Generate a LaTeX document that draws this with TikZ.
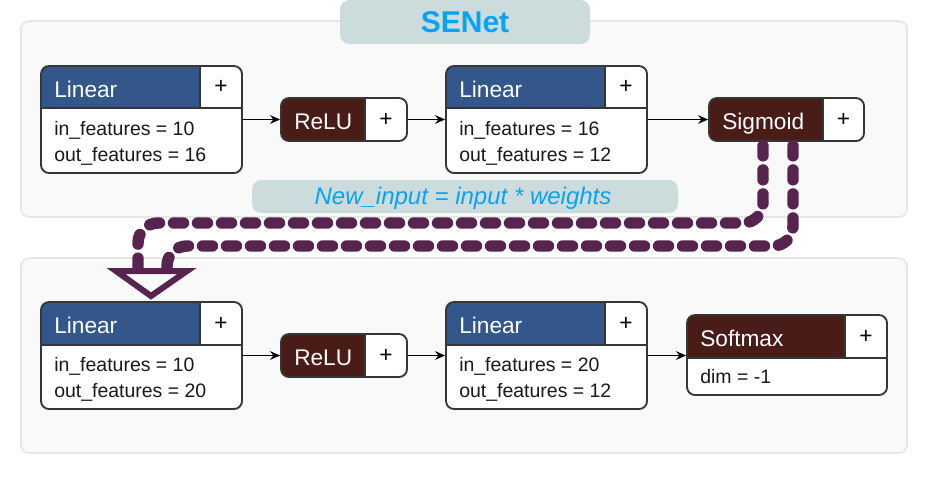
\documentclass[tikz,border=0pt]{standalone}
\usepackage{fontspec}
\setmainfont{Liberation Sans}
\usetikzlibrary{arrows.meta,fit,calc}
\definecolor{hblue}{HTML}{33578A}
\definecolor{hbrown}{HTML}{4A1C17}
\definecolor{sepurple}{HTML}{56244F}
\definecolor{panelbg}{HTML}{F9F9F9}
\definecolor{panelline}{HTML}{E6E6E6}
\definecolor{tagbg}{HTML}{CCDCDC}
\definecolor{tagtext}{HTML}{07A3F7}
\definecolor{boxgray}{HTML}{363636}
\definecolor{trifill}{HTML}{F8FAFB}
\tikzset{
  panel/.style={fill=panelbg, draw=panelline, line width=1.2pt, rounded corners=6pt, inner sep=0pt},
  tag/.style={fill=tagbg, rounded corners=7pt, inner sep=0pt},
  modline/.style={draw=boxgray, line width=1.4pt},
  modframe/.style={draw=boxgray, line width=1.4pt, rounded corners=6pt, inner sep=0pt},
  headtext/.style={text=white, font=\fontsize{17pt}{20pt}\selectfont, anchor=base west, inner sep=0pt},
  plustext/.style={text=black, font=\fontsize{17pt}{20pt}\selectfont, inner sep=0pt},
  bodytext/.style={text=black!90, font=\fontsize{14.6pt}{17pt}\selectfont, anchor=base west, inner sep=0pt},
  arr/.style={-{Stealth[length=7.5pt,width=6.5pt,inset=2.5pt]}, line width=1.3pt, draw=black},
  sedash/.style={draw=sepurple, line width=8.6pt, line cap=round, dash pattern=on 7.4pt off 10.6pt, rounded corners=15pt},
  triangle/.style={draw=sepurple, line width=4.5pt, fill=trifill, line join=miter},
}
% #1 name, #2 x1, #3 y1, #4 x2, #5 y2, #6 header bottom, #7 plus divider x, #8 colour, #9 title
\newcommand\sebox[9]{%
  \begin{scope}
    \clip[rounded corners=6pt] (#2,#3) rectangle (#4,#5);
    \fill[white] (#2,#3) rectangle (#4,#5);
    \fill[#8] (#2,#3) rectangle (#7,#6);
    \draw[modline] (#7,#3) -- (#7,#6);
    \draw[modline] (#2,#6) -- (#4,#6);
  \end{scope}
  \node[modframe, fit={(#2,#3) (#4,#5)}] (#1) {};
  \node[headtext] (#1-t) at ({#2+13},{#3+31}) {#9};
  \node[plustext] (#1-p) at ({(#7+#4)/2},{(#3+#6)/2}) {+};
}
\begin{document}
\begin{tikzpicture}[x=0.75pt,y=-0.75pt]
\useasboundingbox (0,0) rectangle (930,476);
% panels
\node[panel, fit={(21,21) (907,217)}] (toppanel) {};
\node[panel, fit={(21,258) (907,453)}] (botpanel) {};
% title
\node[tag, fit={(340,0) (590,44)}] (tbox) {};
\node[anchor=base, text=tagtext, font=\bfseries\fontsize{22.5pt}{26pt}\selectfont, inner sep=0pt] (ttext) at (465,32) {SENet};
% formula
\node[tag, fit={(252,180) (678,213)}] (fbox) {};
\node[anchor=base, text=tagtext, font=\itshape\fontsize{18pt}{21pt}\selectfont, inner sep=0pt] (ftext) at (463,204) {New\_input = input * weights};
% top row
\sebox{lin1}{41}{66}{242}{173}{108}{200}{hblue}{Linear}
\node[bodytext] (lin1-a) at (54,135) {in\_features = 10};
\node[bodytext] (lin1-b) at (54,161) {out\_features = 16};
\sebox{relu1}{281}{98}{407}{141}{141}{365}{hbrown}{ReLU}
\sebox{lin2}{446}{66}{647}{173}{108}{605}{hblue}{Linear}
\node[bodytext] (lin2-a) at (459,135) {in\_features = 16};
\node[bodytext] (lin2-b) at (459,161) {out\_features = 12};
\sebox{sig}{709}{98}{864}{141}{141}{823}{hbrown}{Sigmoid}
% bottom row
\sebox{lin3}{41}{302}{242}{409}{345}{200}{hblue}{Linear}
\node[bodytext] (lin3-a) at (54,371) {in\_features = 10};
\node[bodytext] (lin3-b) at (54,397) {out\_features = 20};
\sebox{relu2}{281}{334}{407}{377}{377}{365}{hbrown}{ReLU}
\sebox{lin4}{446}{302}{647}{409}{345}{605}{hblue}{Linear}
\node[bodytext] (lin4-a) at (459,371) {in\_features = 20};
\node[bodytext] (lin4-b) at (459,397) {out\_features = 12};
\sebox{soft}{687}{315}{887}{395}{358}{845}{hbrown}{Softmax}
\node[bodytext] (soft-a) at (700,383) {dim = -1};
% arrows
\draw[arr] (lin1.east) -- (relu1.west);
\draw[arr] (relu1.east) -- (lin2.west);
\draw[arr] (lin2.east) -- (sig.west);
\draw[arr] (lin3.east) -- (relu2.west);
\draw[arr] (relu2.east) -- (lin4.west);
\draw[arr] (lin4.east) -- (lin4.east -| soft.west);
% SE connector
\coordinate (s1) at ($(sig.south)+(-23.5,4)$);
\coordinate (s2) at ($(sig.south)+(6.5,4)$);
\coordinate (h1) at (0,223);
\coordinate (h2) at (0,246);
\coordinate (e1) at (138,267);
\coordinate (e2) at (167,267);
\draw[sedash] (s1) -- (s1 |- h1) -- (e1 |- h1) -- (e1);
\draw[sedash] (s2) -- (s2 |- h2) -- (e2 |- h2) -- (e2);
\draw[triangle] (116,271) -- (187,271) -- (151,296) -- cycle;
\end{tikzpicture}
\end{document}
